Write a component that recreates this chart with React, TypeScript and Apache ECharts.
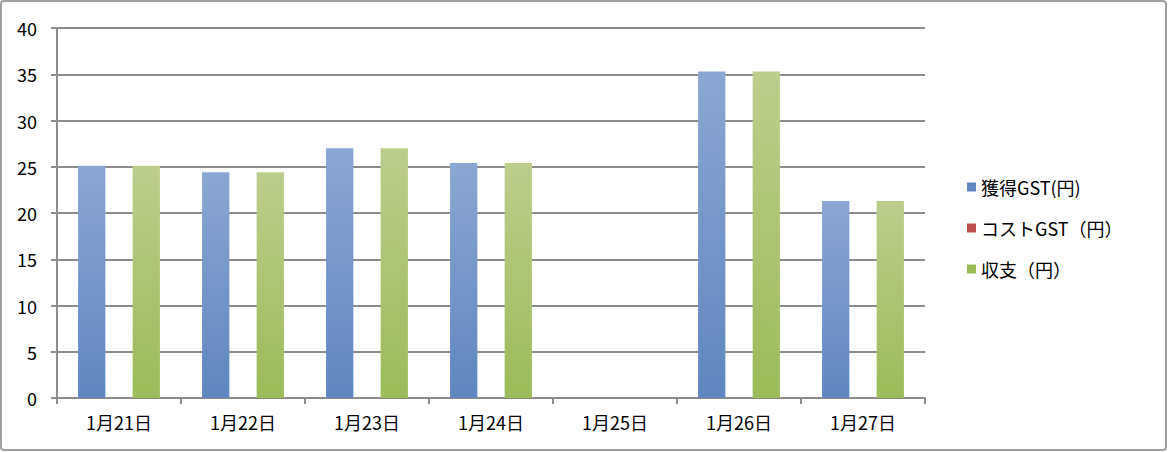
import React, { useEffect, useRef } from "react";
import * as echarts from "echarts";

const categories = ["1月21日", "1月22日", "1月23日", "1月24日", "1月25日", "1月26日", "1月27日"];
const earnedGST = [25.1, 24.4, 27.0, 25.4, 0, 35.3, 21.3];
const costGST = [0, 0, 0, 0, 0, 0, 0];
const balance = [25.1, 24.4, 27.0, 25.4, 0, 35.3, 21.3];
const seriesNames = ["獲得GST(円)", "コストGST（円）", "収支（円）"];

const font = "'Noto Sans CJK JP', 'Noto Sans', sans-serif";

function grad(top: string, bottom: string) {
  return new echarts.graphic.LinearGradient(0, 0, 0, 1, [
    { offset: 0, color: top },
    { offset: 1, color: bottom },
  ]);
}

export default function App() {
  const ref = useRef<HTMLDivElement>(null);
  useEffect(() => {
    document.body.style.margin = "0";
    const chart = echarts.init(ref.current!, null, { renderer: "svg" });
    chart.setOption({
      animation: false,
      textStyle: { fontFamily: font },
      graphic: [
        {
          type: "rect",
          shape: { x: 1, y: 1, width: 1165, height: 449, r: 3 },
          style: { fill: "none", stroke: "#a0a0a0", lineWidth: 2 },
          silent: true,
        },
      ],
      grid: { left: 57, right: 243, top: 28, bottom: 54, containLabel: false },
      legend: {
        orient: "vertical",
        left: 962,
        top: 173,
        itemWidth: 9,
        itemHeight: 9,
        itemGap: 23,
        icon: "rect",
        textStyle: { fontSize: 18, color: "#000", fontFamily: font },
        data: [
          { name: seriesNames[0], itemStyle: { color: "#5f86c0" } },
          { name: seriesNames[1], itemStyle: { color: "#c0504d" } },
          { name: seriesNames[2], itemStyle: { color: "#9bbb59" } },
        ],
      },
      xAxis: {
        type: "category",
        data: categories,
        boundaryGap: true,
        axisLine: { lineStyle: { color: "#8c8c8c", width: 2 } },
        axisTick: { show: true, length: 6, lineStyle: { color: "#8c8c8c", width: 2 } },
        axisLabel: { fontSize: 18, color: "#000", margin: 15, fontFamily: font },
      },
      yAxis: {
        type: "value",
        min: 0,
        max: 40,
        interval: 5,
        axisLine: { show: true, lineStyle: { color: "#8c8c8c", width: 2 } },
        axisTick: { show: true, length: 6, lineStyle: { color: "#8c8c8c", width: 2 } },
        axisLabel: { fontSize: 18, color: "#000", margin: 20, fontFamily: font },
        splitLine: { show: true, lineStyle: { color: "#8c8c8c", width: 2 } },
      },
      series: [
        {
          name: seriesNames[0],
          type: "bar",
          data: earnedGST,
          barGap: "0%",
          barCategoryGap: "34%",
          itemStyle: { color: grad("#8ba6d3", "#5f86c0") },
        },
        {
          name: seriesNames[1],
          type: "bar",
          data: costGST,
          itemStyle: { color: grad("#d27a78", "#c0504d") },
        },
        {
          name: seriesNames[2],
          type: "bar",
          data: balance,
          itemStyle: { color: grad("#bdcd8c", "#9bbb59") },
        },
      ],
    });
    return () => chart.dispose();
  }, []);
  return <div ref={ref} style={{ width: 1168, height: 452 }} />;
}
